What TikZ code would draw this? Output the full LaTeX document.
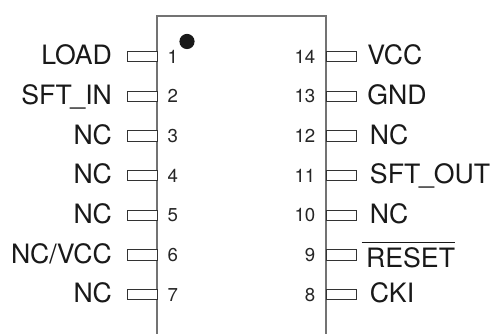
\documentclass[tikz,border=0pt]{standalone}
\usepackage{fontspec}
\setmainfont{TeX Gyre Heros}
\usetikzlibrary{positioning}

\begin{document}
\begin{tikzpicture}[x=0.75pt,y=-0.75pt,node distance=29.75pt,
 pin box/.style={rectangle,draw=black!80,line width=0.55pt,fill=white,minimum width=22.5pt,minimum height=7.6pt,inner sep=0pt},
 pin name/.style={font=\fontsize{20}{22}\selectfont,text=black!90,inner sep=0pt,text height=14.4pt,text depth=0pt,yshift=1pt},
 pin num/.style={font=\fontsize{14}{16}\selectfont,text=black!85,inner sep=0pt,text height=10pt,text depth=0pt}]
\useasboundingbox (0,0) rectangle (493,334);
\coordinate (BL) at (157,334);
\coordinate (TL) at (157,16);
\coordinate (TR) at (326,16);
\coordinate (BR) at (326,334);
\draw[black!55,line width=0.8pt] (BL) -- (TL) -- (TR) -- (BR);
\node[circle,fill=black!90,inner sep=0pt,minimum size=11.4pt](dot) at (187,41.5){};

\node[pin box](P1) at (142,56.5){};
\node[pin box](P14) at (341,56.5){};
\foreach \s/\t in {2/1, 3/2, 4/3, 5/4, 6/5, 7/6}{
    \node[pin box](P\s)[below of = P\t]{};}
\foreach \s/\t in {13/14, 12/13, 11/12, 10/11, 9/10, 8/9}{
    \node[pin box](P\s)[below of = P\t]{};}

\foreach \s/\t in {1/LOAD, 2/SFT\kern-1pt\_IN, 3/NC, 4/NC, 5/NC, 6/NC\slash VCC, 7/NC}{
    \node[pin name,left=10.8pt of P\s](N\s){\t};
    \node[pin num,right=7.5pt of P\s](C\s){\s};}
\foreach \s/\t/\d in {14/VCC/8, 13/GND/8, 12/NC/10, 11/SFT\kern-1pt\_OUT/10, 10/NC/10, 8/CKI/10}{
    \node[pin name,right=\d pt of P\s](N\s){\t};
    \node[pin num,left=7.5pt of P\s](C\s){\s};}
\node[pin name,right=3.8pt of P9,yshift=-3.2pt](N9){$\overline{\rule{0pt}{17.2pt}\mbox{\,RESET}}$};
\node[pin num,left=7.5pt of P9](C9){9};
\end{tikzpicture}
\end{document}
